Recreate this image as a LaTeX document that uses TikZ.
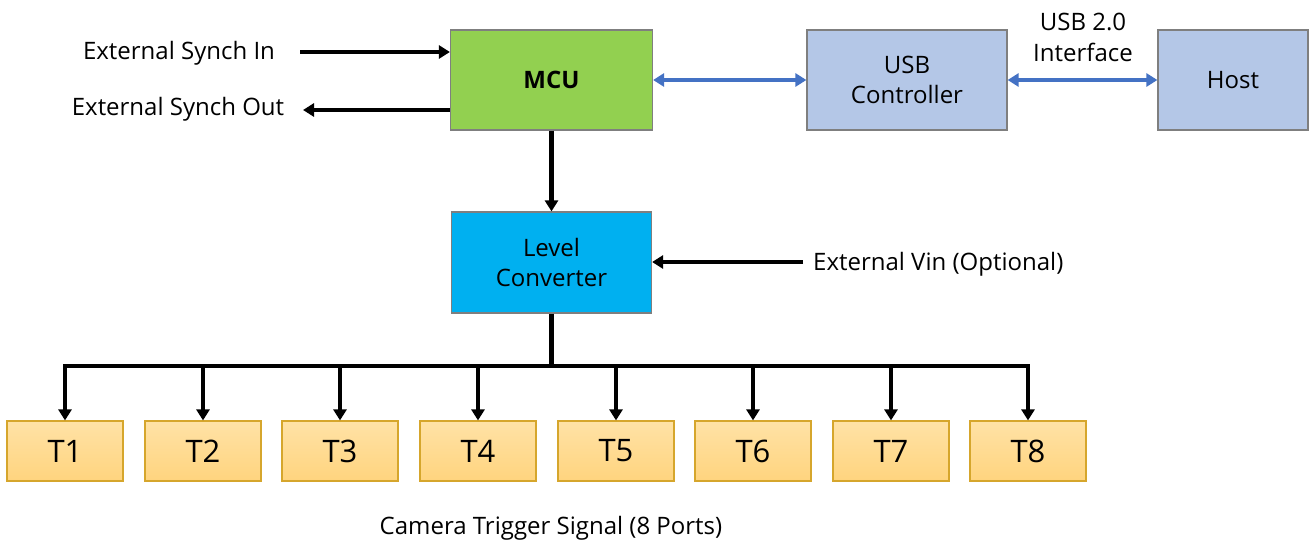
\documentclass[tikz,border=0pt]{standalone}
\usepackage{fontspec}
\setmainfont{Open Sans}
\usetikzlibrary{arrows.meta}
\definecolor{mcugreen}{HTML}{92D050}
\definecolor{usbblue}{HTML}{B4C7E7}
\definecolor{lcblue}{HTML}{00B0F0}
\definecolor{arrowblue}{HTML}{4472C4}
\definecolor{boxgray}{HTML}{7F7F7F}
\definecolor{tborder}{HTML}{D6A62C}
\definecolor{ttop}{HTML}{FFE2A6}
\definecolor{tbot}{HTML}{FFD47E}
\tikzset{
  blk/.style={draw=boxgray, line width=1.2pt, rectangle, inner sep=0pt, align=center, font=\fontsize{24}{30}\selectfont},
  tbox/.style={draw=tborder, line width=1.2pt, rectangle, inner sep=0pt, minimum width=116pt, minimum height=60pt, top color=ttop, bottom color=tbot, font=\fontsize{31}{34}\selectfont},
  lbl/.style={font=\fontsize{24}{30}\selectfont, inner sep=0pt},
  blk arrow/.style={line width=4.5pt, -{Triangle[length=11pt,width=13pt]}},
  blue arrow/.style={line width=4.5pt, draw=arrowblue, {Triangle[length=11pt,width=13pt]}-{Triangle[length=11pt,width=13pt]}},
}
\begin{document}
\begin{tikzpicture}[x=1pt,y=-1pt]
\useasboundingbox (0,0) rectangle (1314,543);
\node[blk, fill=mcugreen, minimum width=202pt, minimum height=100pt, font=\fontsize{24}{30}\selectfont\bfseries] (mcu) at (551.5,80) {MCU};
\node[blk, fill=usbblue, minimum width=200pt, minimum height=100pt] (usb) at (907,80) {USB\\Controller};
\node[blk, fill=usbblue, minimum width=150pt, minimum height=100pt] (host) at (1233,80) {Host};
\node[blk, fill=lcblue, minimum width=200pt, minimum height=101pt] (lc) at (551.5,262.5) {Level\\Converter};
\foreach \i/\x in {1/65,2/203,3/340,4/478,5/616,6/753,7/891,8/1028}{
  \node[tbox] (t\i) at (\x,451) {T\i};
}
\node[lbl] (sin) at (179,53) {External Synch In};
\node[lbl] (sout) at (178,109) {External Synch Out};
\node[lbl, anchor=west] (vin) at (813,264) {External Vin (Optional)};
\node[lbl, align=center, font=\fontsize{24}{31}\selectfont] (usbif) at (1083,37) {USB 2.0\\Interface};
\node[lbl] (cam) at (551,528) {Camera Trigger Signal (8 Ports)};
\coordinate (sinstart) at (300,52);
\coordinate (soutend) at (303,110);
\coordinate (vinstart) at (803,262);
\coordinate (bus) at (551.5,366);
\draw[blk arrow] (sinstart) -- (sinstart -| mcu.west);
\draw[blk arrow] (soutend -| mcu.west) -- (soutend);
\draw[blk arrow] (mcu.south) -- (lc.north);
\draw[blk arrow] (vinstart) -- (vinstart -| lc.east);
\draw[blue arrow] (mcu.east) -- (usb.west);
\draw[blue arrow] (usb.east) -- (host.west);
\draw[line width=4.5pt] (lc.south) -- (bus);
\draw[line width=4.5pt, line cap=rect] (bus -| t1) -- (bus -| t8);
\foreach \i in {1,...,8}{
  \draw[blk arrow] (bus -| t\i) -- (t\i.north);
}
\end{tikzpicture}
\end{document}
